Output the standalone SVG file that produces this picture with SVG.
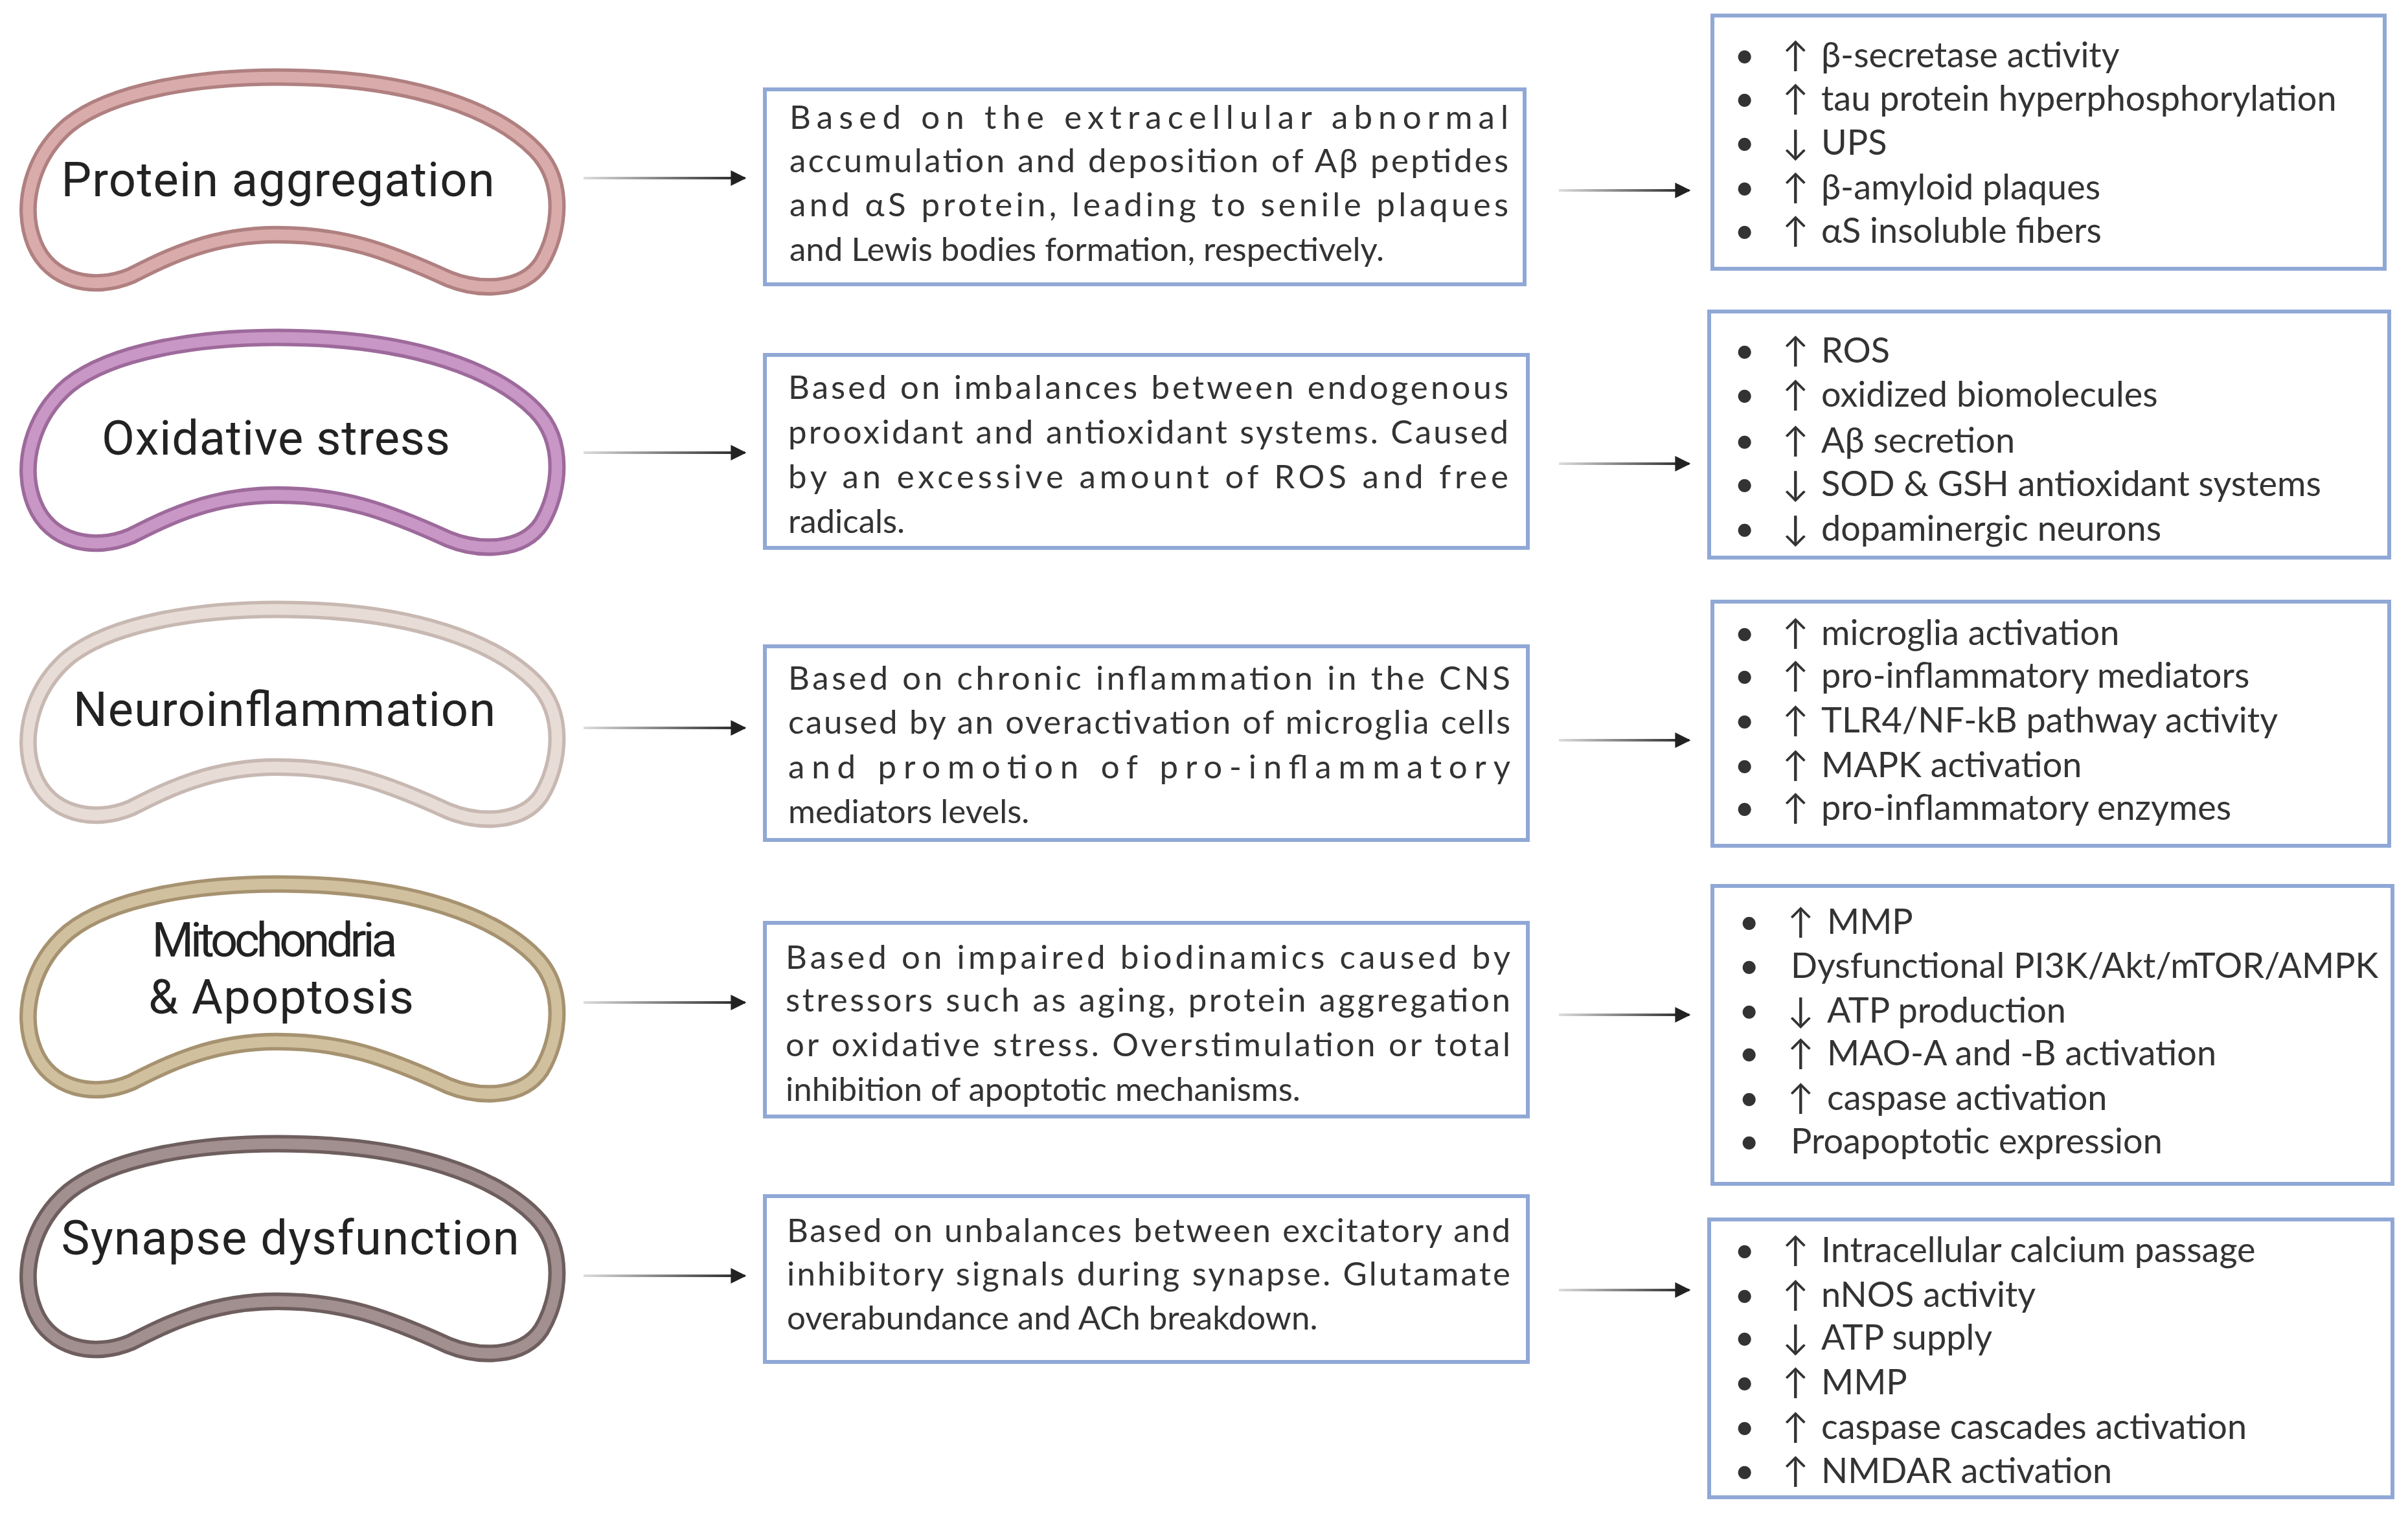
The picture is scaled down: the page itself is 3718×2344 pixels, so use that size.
<svg xmlns="http://www.w3.org/2000/svg" width="3718" height="2344" viewBox="0 0 3718 2344">
<style>
.lbl{font-family:Roboto,"Liberation Sans",sans-serif;font-size:74px;fill:#222;text-anchor:middle}
.mid{font-family:Lato,"Liberation Sans",sans-serif;font-size:51px;fill:#333}
.lst{font-family:Lato,"Liberation Sans",sans-serif;font-size:54px;fill:#333}
.box{fill:#fff;stroke:#90a8d6;stroke-width:6}
.c1{stroke:url(#g1);stroke-width:4;fill:none;marker-end:url(#ah)}
.c2{stroke:url(#g2);stroke-width:4;fill:none;marker-end:url(#ah)}
</style>
<defs>
<linearGradient id="g1" gradientUnits="userSpaceOnUse" x1="901" x2="1150" y1="0" y2="0"><stop offset="0" stop-color="#ddd"/><stop offset="1" stop-color="#222"/></linearGradient>
<linearGradient id="g2" gradientUnits="userSpaceOnUse" x1="2407" x2="2608" y1="0" y2="0"><stop offset="0" stop-color="#ddd"/><stop offset="1" stop-color="#222"/></linearGradient>
<marker id="ah" viewBox="0 0 10 10" refX="9" refY="5" markerWidth="6" markerHeight="6" orient="auto" markerUnits="strokeWidth"><path d="M0,0 L10,5 L0,10 z" fill="#222"/></marker>
<path id="bean" d="M -25,-166 C 200,-166 330,-110 390,-50 C 440,0 430,80 400,130 C 370,175 300,175 250,155 C 150,110 80,85 -25,85 C -130,85 -200,120 -260,150 C -320,175 -390,160 -415,100 C -440,40 -420,-40 -360,-90 C -290,-145 -150,-166 -25,-166 Z"/>
</defs>
<rect width="3718" height="2344" fill="#fff"/>
<g id="pill1" transform="translate(452,280) scale(0.96,0.97)"><use href="#bean" fill="#fff" stroke="#b08080" stroke-width="28"/><use href="#bean" fill="none" stroke="#d9abab" stroke-width="17"/></g>
<g id="pill2" transform="translate(452,682) scale(0.96,0.97)"><use href="#bean" fill="#fff" stroke="#9d6a9b" stroke-width="28"/><use href="#bean" fill="none" stroke="#c997c6" stroke-width="17"/></g>
<g id="pill3" transform="translate(452,1102) scale(0.96,0.97)"><use href="#bean" fill="#fff" stroke="#c8b8b2" stroke-width="28"/><use href="#bean" fill="none" stroke="#e8dcd7" stroke-width="17"/></g>
<g id="pill4" transform="translate(452,1526) scale(0.96,0.97)"><use href="#bean" fill="#fff" stroke="#a69270" stroke-width="28"/><use href="#bean" fill="none" stroke="#d1c09e" stroke-width="17"/></g>
<g id="pill5" transform="translate(452,1927) scale(0.96,0.97)"><use href="#bean" fill="#fff" stroke="#6e5e5e" stroke-width="28"/><use href="#bean" fill="none" stroke="#a28f8f" stroke-width="17"/></g>
<text class="lbl" x="429" y="303" textLength="669">Protein aggregation</text>
<text class="lbl" x="426" y="702" textLength="538">Oxidative stress</text>
<text class="lbl" x="439" y="1121" textLength="652">Neuroinflammation</text>
<text class="lbl" x="424" y="1477" textLength="379">Mitochondria</text>
<text class="lbl" x="434" y="1565" textLength="410">&amp; Apoptosis</text>
<text class="lbl" x="448" y="1937" textLength="707">Synapse dysfunction</text>

<g id="connectors">
<line class="c1" x1="901" y1="275" x2="1150" y2="275"/>
<line class="c1" x1="901" y1="699" x2="1150" y2="699"/>
<line class="c1" x1="901" y1="1124" x2="1150" y2="1124"/>
<line class="c1" x1="901" y1="1548" x2="1150" y2="1548"/>
<line class="c1" x1="901" y1="1970" x2="1150" y2="1970"/>
<line class="c2" x1="2407" y1="294" x2="2608" y2="294"/>
<line class="c2" x1="2407" y1="716" x2="2608" y2="716"/>
<line class="c2" x1="2407" y1="1143" x2="2608" y2="1143"/>
<line class="c2" x1="2407" y1="1567" x2="2608" y2="1567"/>
<line class="c2" x1="2407" y1="1992" x2="2608" y2="1992"/>
</g>

<g id="mid1"><rect class="box" x="1181" y="138" width="1173" height="301"/>
<text class="mid" x="1219" y="199" textLength="1110" lengthAdjust="spacing">Based on the extracellular abnormal</text>
<text class="mid" x="1219" y="266" textLength="1110" lengthAdjust="spacing">accumulation and deposition of Aβ peptides</text>
<text class="mid" x="1219" y="334" textLength="1110" lengthAdjust="spacing">and αS protein, leading to senile plaques</text>
<text class="mid" x="1219" y="403">and Lewis bodies formation, respectively.</text></g>
<g id="mid2"><rect class="box" x="1181" y="548" width="1178" height="298"/>
<text class="mid" x="1217" y="616" textLength="1112" lengthAdjust="spacing">Based on imbalances between endogenous</text>
<text class="mid" x="1217" y="685" textLength="1112" lengthAdjust="spacing">prooxidant and antioxidant systems.  Caused</text>
<text class="mid" x="1217" y="754" textLength="1112" lengthAdjust="spacing">by an excessive amount of ROS and free</text>
<text class="mid" x="1217" y="823">radicals.</text></g>
<g id="mid3"><rect class="box" x="1181" y="998" width="1178" height="299"/>
<text class="mid" x="1217" y="1065" textLength="1115" lengthAdjust="spacing">Based on chronic inflammation in the CNS</text>
<text class="mid" x="1217" y="1133" textLength="1115" lengthAdjust="spacing">caused by an overactivation of microglia cells</text>
<text class="mid" x="1217" y="1202" textLength="1115" lengthAdjust="spacing">and promotion of pro-inflammatory</text>
<text class="mid" x="1217" y="1271">mediators levels.</text></g>
<g id="mid4"><rect class="box" x="1181" y="1425" width="1178" height="299"/>
<text class="mid" x="1213" y="1496" textLength="1119" lengthAdjust="spacing">Based on impaired biodinamics caused by</text>
<text class="mid" x="1213" y="1562" textLength="1119" lengthAdjust="spacing">stressors such as aging,  protein aggregation</text>
<text class="mid" x="1213" y="1631" textLength="1119" lengthAdjust="spacing">or oxidative stress. Overstimulation or total</text>
<text class="mid" x="1213" y="1700">inhibition of apoptotic mechanisms.</text></g>
<g id="mid5"><rect class="box" x="1181" y="1847" width="1178" height="256"/>
<text class="mid" x="1215" y="1918" textLength="1117" lengthAdjust="spacing">Based on unbalances between excitatory and</text>
<text class="mid" x="1215" y="1985" textLength="1117" lengthAdjust="spacing">inhibitory signals during synapse. Glutamate</text>
<text class="mid" x="1215" y="2053">overabundance and ACh breakdown.</text></g>

<g id="list1"><rect class="box" x="2644" y="24" width="1038" height="391"/>
<g class="lst">
<text x="2678" y="104">•</text><text x="2752" y="104">↑</text><text x="2812" y="104">β-secretase activity</text>
<text x="2678" y="171">•</text><text x="2752" y="171">↑</text><text x="2812" y="171">tau protein hyperphosphorylation</text>
<text x="2678" y="239">•</text><text x="2752" y="239">↓</text><text x="2812" y="239">UPS</text>
<text x="2678" y="308">•</text><text x="2752" y="308">↑</text><text x="2812" y="308">β-amyloid plaques</text>
<text x="2678" y="375">•</text><text x="2752" y="375">↑</text><text x="2812" y="375">αS insoluble fibers</text>
</g></g>
<g id="list2"><rect class="box" x="2639" y="481" width="1050" height="380"/>
<g class="lst">
<text x="2678" y="560">•</text><text x="2752" y="560">↑</text><text x="2812" y="560">ROS</text>
<text x="2678" y="628">•</text><text x="2752" y="628">↑</text><text x="2812" y="628">oxidized biomolecules</text>
<text x="2678" y="699">•</text><text x="2752" y="699">↑</text><text x="2812" y="699">Aβ secretion</text>
<text x="2678" y="766">•</text><text x="2752" y="766">↓</text><text x="2812" y="766">SOD &amp; GSH antioxidant systems</text>
<text x="2678" y="835">•</text><text x="2752" y="835">↓</text><text x="2812" y="835">dopaminergic neurons</text>
</g></g>
<g id="list3"><rect class="box" x="2644" y="929" width="1045" height="377"/>
<g class="lst">
<text x="2678" y="996">•</text><text x="2752" y="996">↑</text><text x="2812" y="996">microglia activation</text>
<text x="2678" y="1062">•</text><text x="2752" y="1062">↑</text><text x="2812" y="1062">pro-inflammatory mediators</text>
<text x="2678" y="1131">•</text><text x="2752" y="1131">↑</text><text x="2812" y="1131">TLR4/NF-kB pathway activity</text>
<text x="2678" y="1200">•</text><text x="2752" y="1200">↑</text><text x="2812" y="1200">MAPK activation</text>
<text x="2678" y="1266">•</text><text x="2752" y="1266">↑</text><text x="2812" y="1266">pro-inflammatory enzymes</text>
</g></g>
<g id="list4"><rect class="box" x="2644" y="1368" width="1050" height="460"/>
<g class="lst">
<text x="2685" y="1442">•</text><text x="2760" y="1442">↑</text><text x="2821" y="1442">MMP</text>
<text x="2685" y="1510">•</text><text x="2765" y="1510">Dysfunctional PI3K/Akt/mTOR/AMPK</text>
<text x="2685" y="1579">•</text><text x="2760" y="1579">↓</text><text x="2821" y="1579">ATP production</text>
<text x="2685" y="1645">•</text><text x="2760" y="1645">↑</text><text x="2821" y="1645">MAO-A and -B activation</text>
<text x="2685" y="1714">•</text><text x="2760" y="1714">↑</text><text x="2821" y="1714">caspase activation</text>
<text x="2685" y="1781">•</text><text x="2765" y="1781">Proapoptotic expression</text>
</g></g>
<g id="list5"><rect class="box" x="2639" y="1883" width="1055" height="429"/>
<g class="lst">
<text x="2678" y="1949">•</text><text x="2752" y="1949">↑</text><text x="2812" y="1949">Intracellular calcium passage</text>
<text x="2678" y="2018">•</text><text x="2752" y="2018">↑</text><text x="2812" y="2018">nNOS activity</text>
<text x="2678" y="2084">•</text><text x="2752" y="2084">↓</text><text x="2812" y="2084">ATP supply</text>
<text x="2678" y="2153">•</text><text x="2752" y="2153">↑</text><text x="2812" y="2153">MMP</text>
<text x="2678" y="2222">•</text><text x="2752" y="2222">↑</text><text x="2812" y="2222">caspase cascades activation</text>
<text x="2678" y="2290">•</text><text x="2752" y="2290">↑</text><text x="2812" y="2290">NMDAR activation</text>
</g></g>
</svg>
